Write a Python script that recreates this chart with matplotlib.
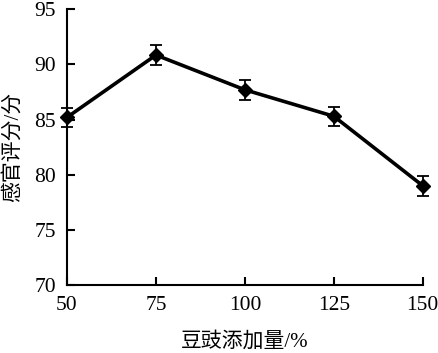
import numpy as np
import matplotlib.pyplot as plt

plt.rcParams['font.family'] = ['Liberation Serif', 'Noto Sans CJK SC']

dosage = [50, 75, 100, 125, 150]
score = [85.2, 90.85, 87.7, 85.3, 79.0]
err = [0.85, 0.9, 0.9, 0.85, 0.9]

fig = plt.figure(figsize=(4.39, 3.53), dpi=100)
ax = fig.add_axes([0.1526, 0.1926, 0.963 - 0.1526, 0.9737 - 0.1926])

eb = ax.errorbar(dosage, score, yerr=err, color='black', linewidth=2.6,
                 marker='D', markersize=7, capsize=4, elinewidth=1.3,
                 capthick=1.3, ecolor='black')
for a in eb.lines[0:1] + tuple(eb.lines[1]) + tuple(eb.lines[2]):
    a.set_clip_on(False)

ax.set_xlim(50, 150)
ax.set_ylim(70, 95)
ax.set_xticks([50, 75, 100, 125, 150])
ax.set_yticks([70, 75, 80, 85, 90, 95])

for s in ['top', 'right']:
    ax.spines[s].set_visible(False)
for s in ['left', 'bottom']:
    ax.spines[s].set_linewidth(1.5)

ax.tick_params(direction='in', length=6, width=1.5, labelsize=15.5, pad=8)
ax.set_xlabel('豆豉添加量/%', fontsize=15, labelpad=12)
ax.set_ylabel('感官评分/分', fontsize=15, labelpad=8)

fig.savefig('out.png', dpi=100)
